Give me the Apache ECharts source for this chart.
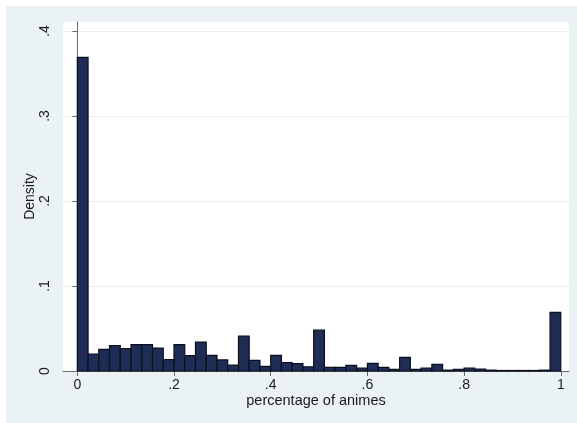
<!DOCTYPE html>
<html>
<head>
<meta charset="utf-8">
<script src="https://cdn.jsdelivr.net/npm/echarts@6/dist/echarts.min.js"></script>
<style>
  html, body { margin: 0; padding: 0; background: #ffffff; }
  #chart { width: 577px; height: 423px; }
</style>
</head>
<body>
<div id="chart"></div>
<script>
// Histogram of the share of animes: 45 equal-width bins on [0, 1]
const binCount = 45;
const density = [
  0.369, 0.020, 0.0255, 0.030, 0.0265, 0.031, 0.031, 0.027, 0.0135, 0.031,
  0.018, 0.034, 0.0185, 0.013, 0.0068, 0.041, 0.0125, 0.0055, 0.0185, 0.010,
  0.0086, 0.005, 0.048, 0.0043, 0.0043, 0.0067, 0.0033, 0.009, 0.0043, 0.002,
  0.016, 0.002, 0.0033, 0.0078, 0.001, 0.0018, 0.0033, 0.0023, 0.001, 0.0006,
  0.0006, 0.0006, 0.0006, 0.001, 0.069
];
const xTicks = [0, 0.2, 0.4, 0.6, 0.8, 1];
const yTicks = [0, 0.1, 0.2, 0.3, 0.4];
const xTitle = 'percentage of animes';
const yTitle = 'Density';

// [left edge, right edge, height] for each bin
const bins = density.map((d, i) => [i / binCount, (i + 1) / binCount, d]);

// Stata-style numbers: ".2" instead of "0.2"
const fmt = v => (v === 0 ? '0' : String(v).replace(/^0\./, '.'));

const textColor = '#1a1a1a';
const axisColor = '#6a6a6a';
const fontFamily = "'Liberation Sans', Arial, sans-serif";

const chart = echarts.init(document.getElementById('chart'), null, { renderer: 'canvas' });

chart.setOption({
  animation: false,
  backgroundColor: 'transparent',
  graphic: [{
    type: 'rect',
    z: -100,
    silent: true,
    shape: { x: 6, y: 6, width: 571, height: 417 },
    style: { fill: '#eaf2f3' }
  }],
  grid: {
    show: true,
    left: 63, top: 22, width: 506, height: 349,
    backgroundColor: '#ffffff',
    borderWidth: 0
  },
  xAxis: {
    type: 'value',
    min: -0.0296, max: 1.0170,
    name: xTitle,
    nameLocation: 'middle',
    nameGap: 22,
    nameMoveOverlap: false,
    nameTextStyle: { color: textColor, fontSize: 14.5, fontFamily },
    axisLine: { show: true, lineStyle: { color: axisColor, width: 1 } },
    axisTick: { show: true, length: 5, customValues: xTicks, lineStyle: { color: axisColor } },
    axisLabel: {
      customValues: xTicks,
      formatter: fmt,
      margin: 7,
      color: textColor, fontSize: 14, fontFamily
    },
    splitLine: { show: false }
  },
  yAxis: {
    type: 'value',
    min: 0, max: 0.4106, interval: 0.1,
    name: yTitle,
    nameLocation: 'middle',
    nameGap: 26,
    nameRotate: 90,
    nameMoveOverlap: false,
    nameTextStyle: { color: textColor, fontSize: 14, fontFamily },
    axisLine: { show: true, lineStyle: { color: axisColor, width: 1 } },
    axisTick: { show: true, length: 5, customValues: yTicks, lineStyle: { color: axisColor } },
    axisLabel: {
      customValues: yTicks,
      formatter: fmt,
      rotate: 90,
      margin: 11,
      color: textColor, fontSize: 14, fontFamily
    },
    splitLine: { show: true, lineStyle: { color: '#e6eff1', width: 1 } }
  },
  series: [{
    type: 'custom',
    data: bins,
    encode: { x: [0, 1], y: 2 },
    renderItem: function (params, api) {
      const topLeft = api.coord([api.value(0), api.value(2)]);
      const bottomRight = api.coord([api.value(1), 0]);
      return {
        type: 'rect',
        shape: {
          x: topLeft[0],
          y: topLeft[1],
          width: bottomRight[0] - topLeft[0],
          height: bottomRight[1] - topLeft[1]
        },
        style: { fill: '#1f2d56', stroke: '#0b101e', lineWidth: 1.2 }
      };
    }
  }]
});
</script>
</body>
</html>
